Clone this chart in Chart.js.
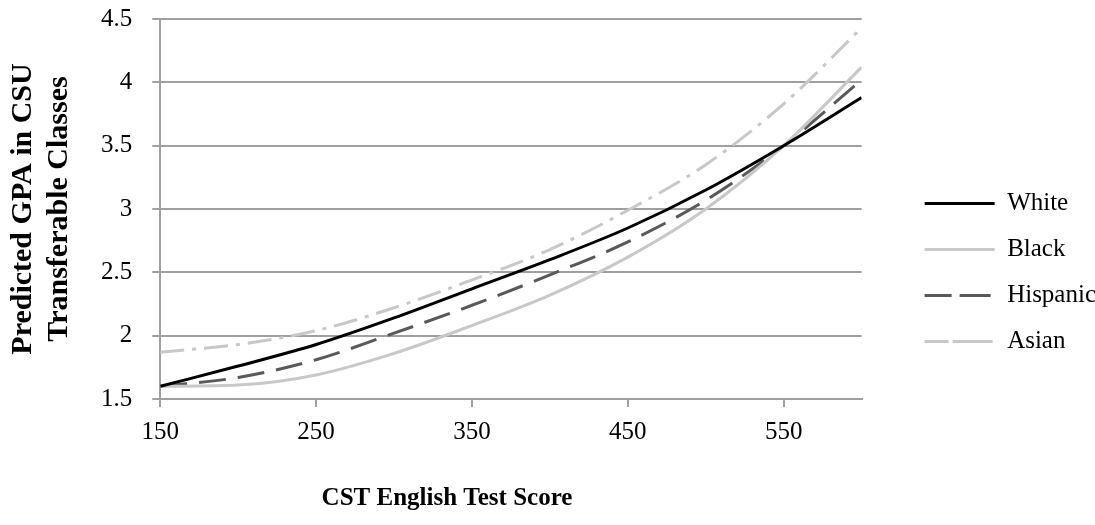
<!DOCTYPE html>
<html>
<head>
<meta charset="utf-8">
<script src="https://cdn.jsdelivr.net/npm/chart.js@4.4.1/dist/chart.umd.min.js"></script>
<style>
  html, body { margin: 0; padding: 0; background: #fff; }
  #wrap { width: 1095px; height: 525px; }
</style>
</head>
<body>
<div id="wrap"><canvas id="myChart"></canvas></div>
<script>
const scores = [150, 200, 250, 300, 350, 400, 450, 500, 550, 600];

// predicted GPA per group
const white    = [1.60, 1.76, 1.93, 2.14, 2.37, 2.60, 2.85, 3.15, 3.50, 3.88];
const black    = [1.60, 1.61, 1.69, 1.86, 2.08, 2.32, 2.62, 3.00, 3.50, 4.12];
const hispanic = [1.60, 1.67, 1.81, 2.02, 2.24, 2.48, 2.74, 3.07, 3.50, 4.02];
const asian    = [1.87, 1.93, 2.04, 2.22, 2.44, 2.68, 2.99, 3.35, 3.83, 4.43];

const xTicks = [150, 250, 350, 450, 550];
const yTicks = [1.5, 2, 2.5, 3, 3.5, 4, 4.5];

const gridGray = '#a0a0a0';
Chart.defaults.font.family = '"Liberation Serif", "Times New Roman", serif';
Chart.defaults.color = '#000';

function points(vals) {
    return scores.map((s, i) => ({ x: s, y: vals[i] }));
}

function series(label, vals, color, dash) {
    return {
        label: label,
        data: points(vals),
        borderColor: color,
        backgroundColor: color,
        borderWidth: 3,
        borderDash: dash,
        borderCapStyle: 'butt',
        pointRadius: 0,
        cubicInterpolationMode: 'monotone',
        fill: false
    };
}

// excel puts the legend further right than chart.js does, so widen it and nudge it
const legendSpot = {
    id: 'legendSpot',
    beforeInit(chart) {
        const fit = chart.legend.fit;
        chart.legend.fit = function () {
            fit.call(this);
            this.width += 31;
        };
    },
    afterLayout(chart) {
        const lg = chart.legend;
        lg.left += 42; lg.right += 42;
        lg.top += 44; lg.bottom += 44;
    }
};

// x title is centred on the chart without the legend
const xTitle = {
    id: 'xTitle',
    afterDraw(chart) {
        const ctx = chart.ctx;
        ctx.save();
        ctx.font = 'bold 25px "Liberation Serif"';
        ctx.fillStyle = '#000';
        ctx.textAlign = 'center';
        ctx.textBaseline = 'middle';
        ctx.fillText('CST English Test Score', 447, chart.height - 26);
        ctx.restore();
    }
};

const ctx = document.getElementById('myChart');
new Chart(ctx, {
    type: 'line',
    data: {
        datasets: [
            series('White', white, '#000000', []),
            series('Black', black, '#c8c8c8', []),
            series('Hispanic', hispanic, '#595959', [27, 12]),
            series('Asian', asian, '#c8c8c8', [24, 8, 4, 8])
        ]
    },
    options: {
        responsive: true,
        maintainAspectRatio: false,
        animation: false,
        layout: { padding: { top: 0, bottom: 68, left: 0, right: 0 } },
        plugins: {
            tooltip: { enabled: false },
            legend: {
                position: 'right',
                labels: {
                    boxWidth: 70,
                    boxHeight: 0,
                    padding: 21,
                    color: '#000',
                    font: { size: 25 }
                }
            }
        },
        scales: {
            x: {
                type: 'linear',
                min: 150,
                max: 600,
                afterBuildTicks: (axis) => { axis.ticks = xTicks.map(v => ({ value: v })); },
                grid: { drawOnChartArea: false, drawTicks: true, tickLength: 8, color: gridGray, lineWidth: 2 },
                border: { color: gridGray, width: 2 },
                ticks: { padding: 10, font: { size: 25 }, color: '#000' }
            },
            y: {
                min: 1.5,
                max: 4.5,
                afterBuildTicks: (axis) => { axis.ticks = yTicks.map(v => ({ value: v })); },
                afterFit: (axis) => { axis.paddingTop = 19; },
                grid: { color: gridGray, lineWidth: 2, tickLength: 8 },
                border: { color: gridGray, width: 2 },
                ticks: {
                    padding: 20,
                    font: { size: 25 },
                    color: '#000',
                    callback: (v) => String(v)
                },
                title: {
                    display: true,
                    text: ['Predicted GPA in CSU', 'Transferable Classes'],
                    font: { size: 30, weight: 'bold' },
                    color: '#000',
                    padding: { top: 5, bottom: 4 }
                }
            }
        }
    },
    plugins: [legendSpot, xTitle]
});
</script>
</body>
</html>
